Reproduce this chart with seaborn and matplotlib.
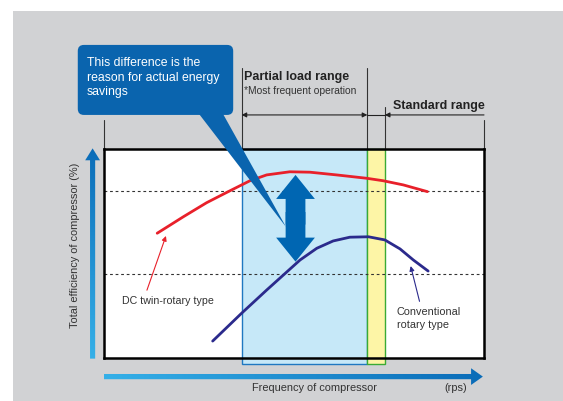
import numpy as np
import pandas as pd
import matplotlib
matplotlib.use("Agg")
import matplotlib.pyplot as plt
import seaborn as sns
from matplotlib.patches import Rectangle, FancyArrow, FancyBboxPatch, Polygon
from matplotlib.colors import LinearSegmentedColormap

# data (frequency / efficiency as % of the chart range)
dc_freq = [14.0, 20.9, 27.0, 32.7, 38.4, 42.8, 48.9, 54.2, 61.2, 69.1, 73.5, 78.8, 85.1]
dc_eff = [59.7, 67.6, 74.3, 79.6, 84.8, 87.6, 89.1, 88.9, 87.6, 86.0, 84.8, 82.8, 79.6]
conv_freq = [28.6, 36.2, 42.8, 47.2, 51.6, 56.0, 60.3, 64.7, 69.6, 73.9, 77.9, 81.4, 85.3]
conv_eff = [8.1, 21.4, 32.5, 39.7, 46.9, 52.5, 56.0, 57.8, 58.0, 56.5, 52.2, 46.9, 41.6]
ref_levels = [80, 40]
partial_range = [36.2, 69.3]
standard_range = [73.9, 100]

sns.set_style("white")
plt.rcParams["font.family"] = ["Liberation Sans", "DejaVu Sans"]

W, H = 563, 401
fig = plt.figure(figsize=(W / 100, H / 100), dpi=100)
fig.patch.set_facecolor("white")
fig.add_artist(Rectangle((13 / W, 0), 1, 390 / H, transform=fig.transFigure,
                         facecolor="#d1d2d4", edgecolor="none", zorder=-10))

# plot box: 104..484 px wide, 43..252 px from the bottom
ax = fig.add_axes([104 / W, 43 / H, 380 / W, 209 / H])
ax.set_facecolor("white")
for s in ax.spines.values():
    s.set_color("black")
    s.set_linewidth(1.8)
ax.set_xticks([])
ax.set_yticks([])

# ranges
ax.add_patch(Rectangle((partial_range[0], -2.9), partial_range[1] - partial_range[0], 102.9,
                       facecolor="#c6e8f8", edgecolor="#1f78c1", lw=1.0, clip_on=False, zorder=1))
ax.add_patch(Rectangle((partial_range[1], -2.9), standard_range[0] - partial_range[1], 102.9,
                       facecolor="#fdf5a6", edgecolor="#3aaa35", lw=1.0, clip_on=False, zorder=1))

for lvl in ref_levels:
    ax.axhline(lvl, color="#333333", lw=0.8, ls=(0, (2.5, 2.5)), zorder=2)

df = pd.DataFrame({"freq": dc_freq + conv_freq, "eff": dc_eff + conv_eff,
                   "type": ["dc"] * len(dc_freq) + ["conv"] * len(conv_freq)})
sns.lineplot(data=df, x="freq", y="eff", hue="type", palette={"dc": "#e8202a", "conv": "#2b2a8c"},
             lw=2.0, sort=False, legend=False, ax=ax, zorder=3)

# vertical lines above the box
tops = {0: 113.9, partial_range[0]: 138.8, partial_range[1]: 138.8, standard_range[0]: 120.2, 100: 113.9}
for x, top in tops.items():
    ax.plot([x, x], [100, top], color="#333333", lw=0.8, clip_on=False, zorder=2)

arr_kw = dict(color="#222222", lw=0.8, shrinkA=0, shrinkB=0, mutation_scale=7)
ax.annotate("", xy=(partial_range[0], 116.3), xytext=(partial_range[1], 116.3),
            arrowprops=dict(arrowstyle="<|-|>", **arr_kw), annotation_clip=False)
ax.plot([partial_range[1], standard_range[0]], [116.3, 116.3], color="#222222", lw=0.8, clip_on=False)
ax.annotate("", xy=(standard_range[0], 116.3), xytext=(standard_range[1], 116.3),
            arrowprops=dict(arrowstyle="-|>", **arr_kw), annotation_clip=False)

ax.text(36.8, 133.0, "Partial load range", fontsize=9.0, fontweight="bold", color="#222222")
ax.text(36.8, 126.2, "*Most frequent operation", fontsize=7.4, color="#333333")
ax.text(76.1, 119.0, "Standard range", fontsize=9.0, fontweight="bold", color="#222222")

# central double arrow
top_y, bot_y = 87.6, 46.1
mid = (top_y + bot_y) / 2
for start, end in [(mid - 3, top_y), (mid + 3, bot_y)]:
    ax.add_patch(FancyArrow(50.4, start, 0, end - start, width=5.2, head_width=10.2, head_length=11.5,
                            length_includes_head=True, color="#0066b2", lw=0, zorder=4))

# callout
ax.add_patch(FancyBboxPatch((-6.9, 116.3), 40.9, 33.5, boxstyle="round,pad=0,rounding_size=1.6",
                            mutation_aspect=3.8 / 2.09, facecolor="#0a64ae", edgecolor="none",
                            clip_on=False, zorder=5))
ax.add_patch(Polygon([(24.7, 117.5), (31.1, 117.5), (47.9, 62.7)], closed=True,
                     facecolor="#0a64ae", edgecolor="none", clip_on=False, zorder=5))
ax.text(-4.5, 143.8, "This difference is the\nreason for actual energy\nsavings", color="white",
        fontsize=8.8, va="top", linespacing=1.25, zorder=6)

# overlay axes with the same data scale, covering the whole figure (for gradient arrows)
ov = fig.add_axes([0, 0, 1, 1], zorder=5)
ov.set_xlim(-104 / 3.8, (W - 104) / 3.8)
ov.set_ylim(-43 / 2.09, (H - 43) / 2.09)
ov.axis("off")
ov.patch.set_alpha(0)


def gradient_arrow(x, y, dx, dy, width, hw, hl, c0, c1):
    arr = FancyArrow(x, y, dx, dy, width=width, head_width=hw, head_length=hl,
                     length_includes_head=True, facecolor="none", edgecolor="none")
    ov.add_patch(arr)
    cmap = LinearSegmentedColormap.from_list("g", [c0, c1])
    if dx:
        grad = np.linspace(0, 1, 256)[None, :]
        ext = (x, x + dx, y - hw / 2, y + hw / 2)
    else:
        grad = np.linspace(0, 1, 256)[:, None]
        ext = (x - hw / 2, x + hw / 2, y, y + dy)
    im = ov.imshow(grad, extent=ext, origin="lower", cmap=cmap, aspect="auto")
    im.set_clip_path(arr)


gradient_arrow(-3.0, -0.3, 0, 100.6, 1.35, 3.9, 5.7, "#35b0e8", "#0a6cb8")
gradient_arrow(0, -8.9, 99.7, 0, 2.5, 8.0, 3.1, "#35b0e8", "#0a6cb8")
ov.set_xlim(-104 / 3.8, (W - 104) / 3.8)
ov.set_ylim(-43 / 2.09, (H - 43) / 2.09)

ax.text(-7.6, 54, "Total efficiency of compressor (%)", rotation=90, ha="center", va="center",
        fontsize=7.9, color="#333333")
ax.text(55.3, -15.6, "Frequency of compressor", ha="center", va="baseline", fontsize=7.9, color="#333333")
ax.text(92.6, -15.6, "(rps)", ha="center", va="baseline", fontsize=7.9, color="#333333")

# curve labels
ax.annotate("DC twin-rotary type", xy=(16.3, 58.4), xytext=(16.8, 25.8), ha="center", va="baseline",
            fontsize=7.7, color="#333333",
            arrowprops=dict(arrowstyle="-|>", color="#e8202a", lw=0.8, mutation_scale=7,
                            shrinkA=2, shrinkB=0, relpos=(0.25, 1.0)))
ax.annotate("Conventional\nrotary type", xy=(80.7, 44.0), xytext=(77.0, 14.5), ha="left", va="baseline",
            fontsize=7.8, color="#333333", linespacing=1.3,
            arrowprops=dict(arrowstyle="-|>", color="#2b2a8c", lw=0.8, mutation_scale=7,
                            shrinkA=2, shrinkB=0, relpos=(0.38, 1.0)))

ax.set_xlim(0, 100)
ax.set_ylim(0, 100)
ax.set_xlabel("")
ax.set_ylabel("")

fig.savefig("out.png", dpi=100)
